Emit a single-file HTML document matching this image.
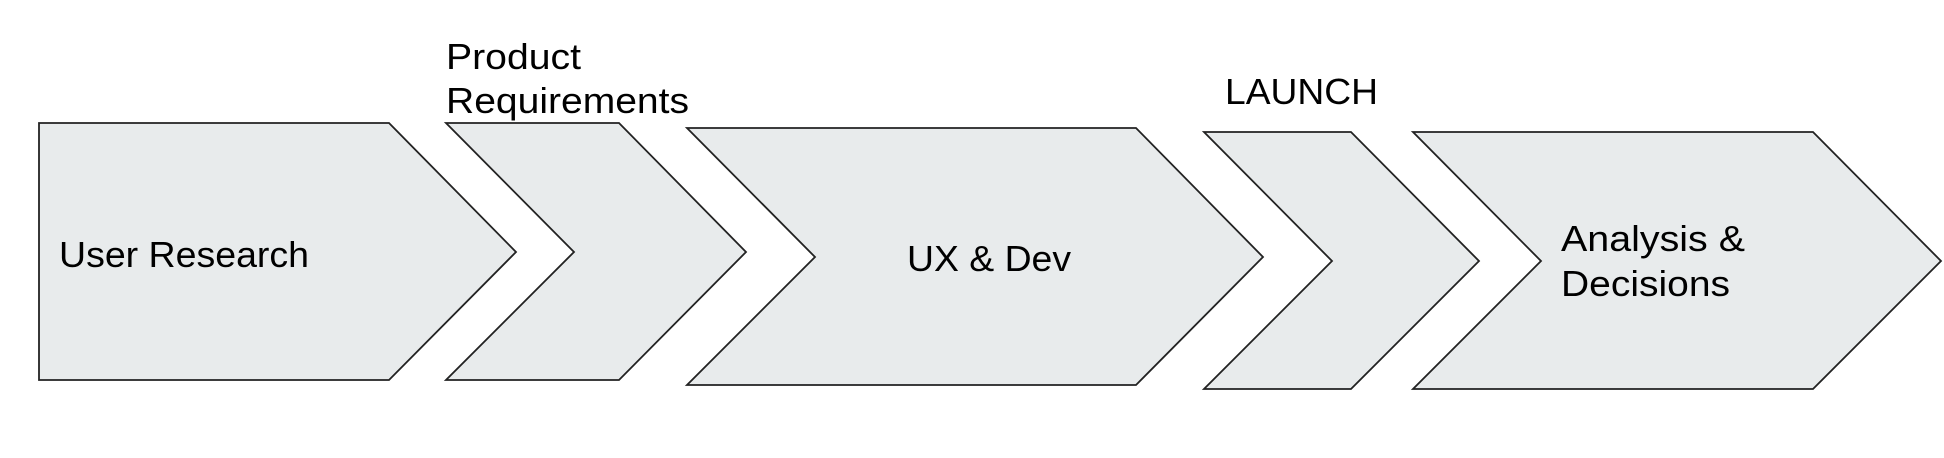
<!DOCTYPE html>
<html><head><meta charset="utf-8"><style>
html,body{margin:0;padding:0;background:#fff;}
svg{display:block;}
text{font-family:"Liberation Sans",Arial,sans-serif;fill:#000;font-size:36px;}
</style></head><body>
<svg width="1944" height="458" viewBox="0 0 1944 458" xmlns="http://www.w3.org/2000/svg">
<g fill="#e8ebec" stroke="#222" stroke-width="1.8" stroke-linejoin="miter">
<polygon points="39,123 389,123 516,252 389,380 39,380"/>
<polygon points="446,123 619,123 746,252 619,380 446,380 574,252"/>
<polygon points="687,128 1136,128 1263,257 1136,385 687,385 815,257"/>
<polygon points="1204,132 1351,132 1479,261 1351,389 1204,389 1332,261"/>
<polygon points="1413,132 1813,132 1941,261 1813,389 1413,389 1541,261"/>
</g>
<text x="59" y="267" textLength="250" lengthAdjust="spacingAndGlyphs">User Research</text>
<text x="446" y="69" textLength="135" lengthAdjust="spacingAndGlyphs">Product</text>
<text x="446" y="113" textLength="243" lengthAdjust="spacingAndGlyphs">Requirements</text>
<text x="907" y="271" textLength="164" lengthAdjust="spacingAndGlyphs">UX &amp; Dev</text>
<text x="1225" y="104" textLength="153" lengthAdjust="spacingAndGlyphs">LAUNCH</text>
<text x="1561" y="251" textLength="184" lengthAdjust="spacingAndGlyphs">Analysis &amp;</text>
<text x="1561" y="296" textLength="169" lengthAdjust="spacingAndGlyphs">Decisions</text>
</svg>
</body></html>
